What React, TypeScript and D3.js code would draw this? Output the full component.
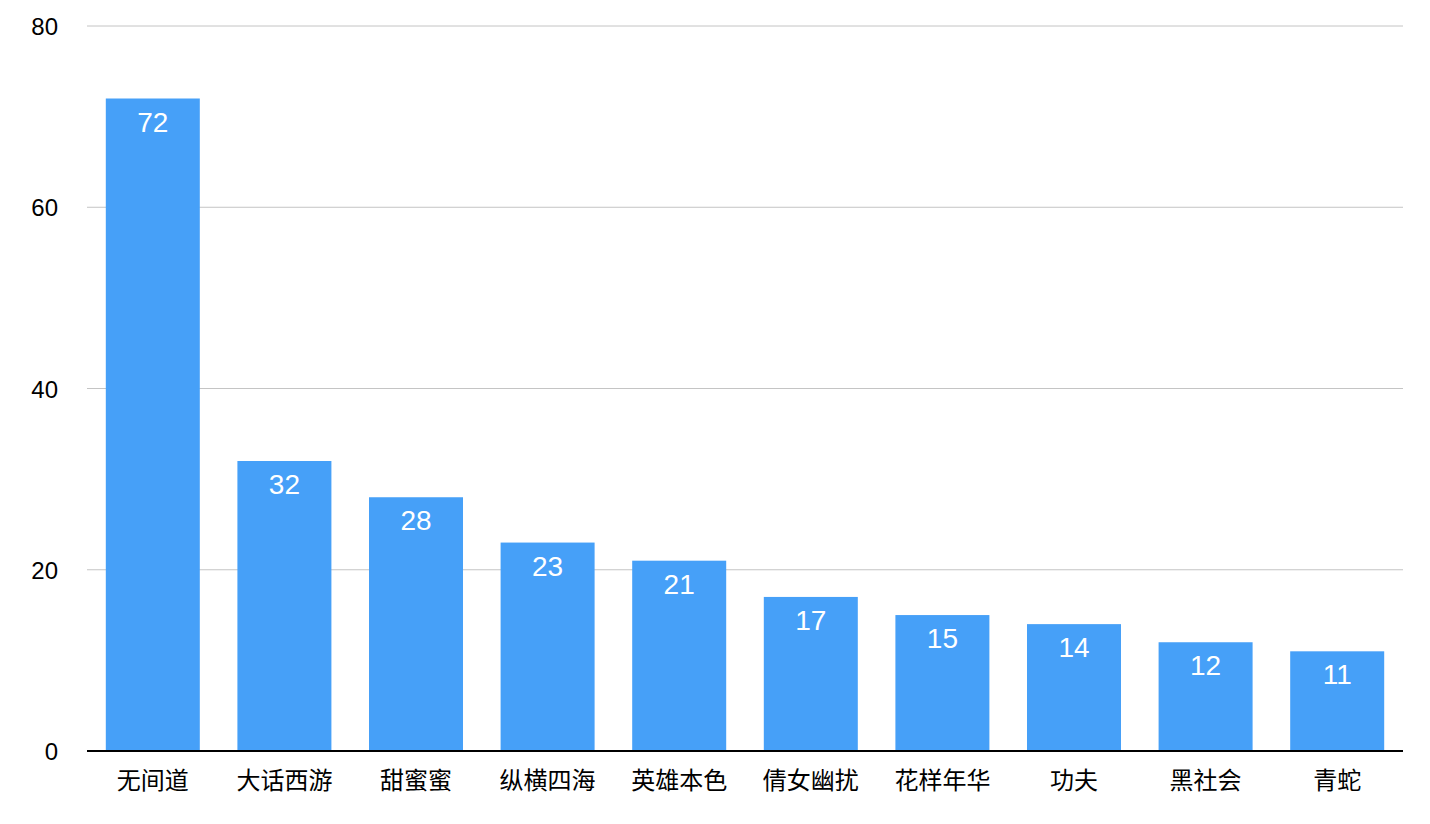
import React from 'react';
import * as d3 from 'd3';

const categories = ['无间道', '大话西游', '甜蜜蜜', '纵横四海', '英雄本色', '倩女幽扰', '花样年华', '功夫', '黑社会', '青蛇'];
const values = [72, 32, 28, 23, 21, 17, 15, 14, 12, 11];
const yTicks = [0, 20, 40, 60, 80];

const W = 1430;
const H = 824;
const margin = { top: 26, right: 27, bottom: 73, left: 87 };

const font = '"Liberation Sans", Arial, "Noto Sans CJK SC", sans-serif';

export default function App() {
  const x = d3
    .scaleBand<string>()
    .domain(categories)
    .range([margin.left, W - margin.right])
    .paddingInner(0.2857)
    .paddingOuter(0.1429);
  const y = d3.scaleLinear().domain([0, 80]).range([H - margin.bottom, margin.top]);

  return (
    <svg width={W} height={H} style={{ position: 'absolute', left: 0, top: 0, background: '#fff' }}>
      {/* grid */}
      {yTicks.filter(t => t > 0).map(t => (
        <line key={t} x1={margin.left} x2={W - margin.right} y1={y(t)} y2={y(t)} stroke="#c4c4c4" strokeWidth={1} />
      ))}
      {yTicks.map(t => (
        <text key={'l' + t} x={58} y={y(t) + 9} textAnchor="end" fontSize={24} fontFamily={font} fill="#000">
          {t}
        </text>
      ))}

      {/* bars */}
      {categories.map((c, i) => (
        <g key={c}>
          <rect x={x(c)} y={y(values[i])} width={x.bandwidth()} height={y(0) - y(values[i])} fill="#46a0f8" />
          <text
            x={(x(c) ?? 0) + x.bandwidth() / 2}
            y={y(values[i]) + 33}
            textAnchor="middle"
            fontSize={28}
            fontFamily={font}
            fill="#fff"
          >
            {values[i]}
          </text>
          <text
            x={(x(c) ?? 0) + x.bandwidth() / 2}
            y={y(0) + 38}
            textAnchor="middle"
            fontSize={24}
            fontFamily={font}
            fill="#000"
          >
            {c}
          </text>
        </g>
      ))}

      {/* axis baseline */}
      <line x1={margin.left} x2={W - margin.right} y1={y(0)} y2={y(0)} stroke="#000" strokeWidth={2} />
    </svg>
  );
}
